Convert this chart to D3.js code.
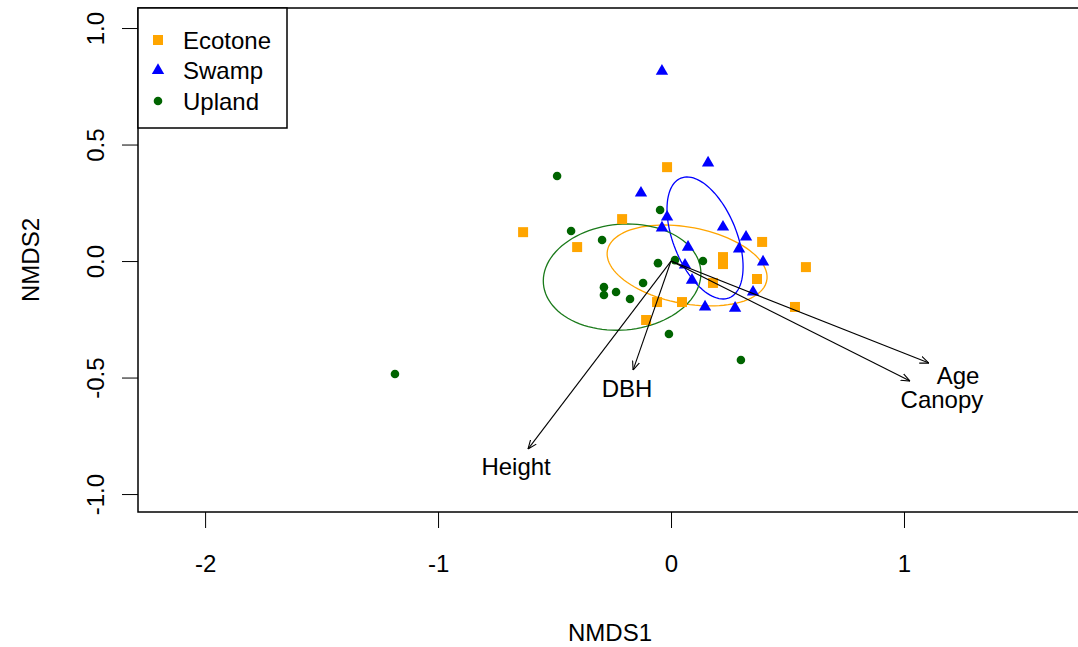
<!DOCTYPE html>
<html>
<head>
<meta charset="utf-8">
<script src="https://cdn.jsdelivr.net/npm/d3@7"></script>
<style>
  body { margin: 0; background: #fff; }
  text { font-family: "Liberation Sans", Arial, sans-serif; fill: #000; }
</style>
</head>
<body>
<div id="chart"></div>
<script>
// site scores per habitat (NMDS1, NMDS2)
const ecotone = [
  [-0.635, 0.124], [-0.403, 0.060], [-0.210, 0.180], [-0.017, 0.403],
  [-0.060, -0.176], [0.047, -0.176], [-0.107, -0.253], [0.223, 0.017],
  [0.223, -0.013], [0.391, 0.082], [0.579, -0.026], [0.369, -0.077],
  [0.180, -0.094], [0.532, -0.197]
];
const swamp = [
  [-0.039, 0.815], [0.159, 0.421], [-0.129, 0.292], [-0.017, 0.189],
  [-0.039, 0.142], [0.223, 0.146], [0.322, 0.103], [0.073, 0.060],
  [0.292, 0.052], [0.395, -0.004], [0.060, -0.017], [0.090, -0.082],
  [0.352, -0.133], [0.146, -0.197], [0.275, -0.202]
];
const upland = [
  [-1.185, -0.485], [-0.489, 0.365], [-0.047, 0.219], [-0.429, 0.129],
  [-0.296, 0.090], [-0.056, -0.009], [0.017, 0.004], [-0.288, -0.112],
  [-0.288, -0.146], [-0.236, -0.133], [-0.176, -0.163], [-0.120, -0.094],
  [-0.009, -0.313], [0.137, 0.000], [0.300, -0.425]
];

// ordination ellipses: centre x, centre y, semi-axis a, semi-axis b, angle (deg)
const ellipseNames = ["Ecotone", "Swamp", "Upland"];
const ellipseCx = [0.069, 0.146, -0.210];
const ellipseCy = [-0.019, 0.099, -0.069];
const ellipseA = [0.348, 0.277, 0.339];
const ellipseB = [0.164, 0.136, 0.227];
const ellipseAngle = [-10.7, -68, 5];

// fitted environmental vectors
const vecNames = ["Height", "DBH", "Age", "Canopy"];
const vecX = [-0.614, -0.163, 1.107, 1.026];
const vecY = [-0.807, -0.468, -0.438, -0.515];
const vecLabX = [-0.665, -0.189, 1.232, 1.163];
const vecLabY = [-0.880, -0.549, -0.490, -0.594];

const xTicks = [-2, -1, 0, 1];
const yTicks = [-1.0, -0.5, 0.0, 0.5, 1.0];

const W = 1078, H = 647;
const plot = { left: 138, top: 8, right: 1092, bottom: 512 };
const fs = 24;

const x = d3.scaleLinear().domain([-2.288, 1.807]).range([plot.left, plot.right]);
const y = d3.scaleLinear().domain([-1.077, 1.086]).range([plot.bottom, plot.top]);

const colors = { Ecotone: "#FFA500", Swamp: "#0000FF", Upland: "#006400" };
const ellipseColors = { Ecotone: "#FFA500", Swamp: "#0000FF", Upland: "#1a7a1a" };

// R style hyphen minus
const hy = f => d => f(d).replace("\u2212", "-");

const svg = d3.select("#chart").append("svg")
  .attr("width", W).attr("height", H);

// arrow marker (open head)
svg.append("defs").append("marker")
  .attr("id", "head")
  .attr("viewBox", "0 -5 10 10")
  .attr("refX", 10).attr("refY", 0)
  .attr("markerWidth", 9).attr("markerHeight", 9)
  .attr("markerUnits", "userSpaceOnUse")
  .attr("orient", "auto")
  .append("path")
  .attr("d", "M0,-4L10,0L0,4")
  .attr("fill", "none").attr("stroke", "#000").attr("stroke-width", 1.2);

// x axis
const xAxis = svg.append("g")
  .attr("transform", "translate(0," + plot.bottom + ")")
  .call(d3.axisBottom(x).tickValues(xTicks).tickSize(16).tickPadding(27).tickFormat(hy(d3.format("d"))));
xAxis.select(".domain").remove();
xAxis.selectAll("text").attr("font-size", fs).attr("font-family", "Liberation Sans, Arial, sans-serif");
xAxis.selectAll("line").attr("stroke", "#000");

// y axis
const yAxis = svg.append("g")
  .attr("transform", "translate(" + plot.left + ",0)")
  .call(d3.axisLeft(y).tickValues(yTicks).tickSize(16).tickFormat(hy(d3.format(".1f"))));
yAxis.select(".domain").remove();
yAxis.selectAll("line").attr("stroke", "#000");
yAxis.selectAll(".tick text")
  .attr("font-size", fs)
  .attr("font-family", "Liberation Sans, Arial, sans-serif")
  .attr("text-anchor", "middle")
  .attr("dy", null)
  .attr("x", 0).attr("y", 0)
  .attr("dominant-baseline", "central")
  .attr("transform", "translate(-43,0) rotate(-90)");

// axis titles
svg.append("text").attr("x", 610).attr("y", 632)
  .attr("text-anchor", "middle").attr("dominant-baseline", "central")
  .attr("font-size", fs).text("NMDS1");
svg.append("text")
  .attr("transform", "translate(30,260) rotate(-90)")
  .attr("text-anchor", "middle").attr("dominant-baseline", "central")
  .attr("font-size", fs).text("NMDS2");

// ellipses
const ellLine = d3.line().x(d => x(d[0])).y(d => y(d[1]));
ellipseNames.forEach((name, i) => {
  const pts = [];
  const t = ellipseAngle[i] * Math.PI / 180;
  for (let k = 0; k <= 100; k++) {
    const u = 2 * Math.PI * k / 100;
    const ex = ellipseA[i] * Math.cos(u), ey = ellipseB[i] * Math.sin(u);
    pts.push([ellipseCx[i] + ex * Math.cos(t) - ey * Math.sin(t),
              ellipseCy[i] + ex * Math.sin(t) + ey * Math.cos(t)]);
  }
  svg.append("path").attr("d", ellLine(pts))
    .attr("fill", "none").attr("stroke", ellipseColors[name]).attr("stroke-width", 1.3);
});

// points
const sym = {
  Ecotone: d3.symbol().type(d3.symbolSquare).size(100),
  Swamp: d3.symbol().type(d3.symbolTriangle).size(66),
  Upland: d3.symbol().type(d3.symbolCircle).size(58)
};
[["Ecotone", ecotone], ["Swamp", swamp], ["Upland", upland]].forEach(([name, pts]) => {
  svg.append("g").selectAll("path").data(pts).enter().append("path")
    .attr("d", sym[name])
    .attr("transform", d => "translate(" + x(d[0]) + "," + y(d[1]) + ")")
    .attr("fill", colors[name]);
});

// vectors
vecNames.forEach((name, i) => {
  svg.append("line")
    .attr("x1", x(0)).attr("y1", y(0))
    .attr("x2", x(vecX[i])).attr("y2", y(vecY[i]))
    .attr("stroke", "#000").attr("stroke-width", 1.1)
    .attr("marker-end", "url(#head)");
  svg.append("text")
    .attr("x", x(vecLabX[i])).attr("y", y(vecLabY[i]))
    .attr("text-anchor", "middle").attr("dominant-baseline", "central")
    .attr("font-size", fs).text(name);
});

// plot box
svg.append("rect")
  .attr("x", plot.left).attr("y", plot.top)
  .attr("width", plot.right - plot.left).attr("height", plot.bottom - plot.top)
  .attr("fill", "none").attr("stroke", "#000").attr("stroke-width", 1.5);

// legend
const leg = svg.append("g");
leg.append("rect").attr("x", plot.left).attr("y", plot.top)
  .attr("width", 149).attr("height", 120)
  .attr("fill", "#fff").attr("stroke", "#000").attr("stroke-width", 1.5);
ellipseNames.forEach((name, i) => {
  const cy = 40 + i * 30.5;
  leg.append("path").attr("d", sym[name])
    .attr("transform", "translate(158," + cy + ")")
    .attr("fill", colors[name]);
  leg.append("text").attr("x", 183).attr("y", cy)
    .attr("dominant-baseline", "central")
    .attr("font-size", fs).text(name);
});
</script>
</body>
</html>
